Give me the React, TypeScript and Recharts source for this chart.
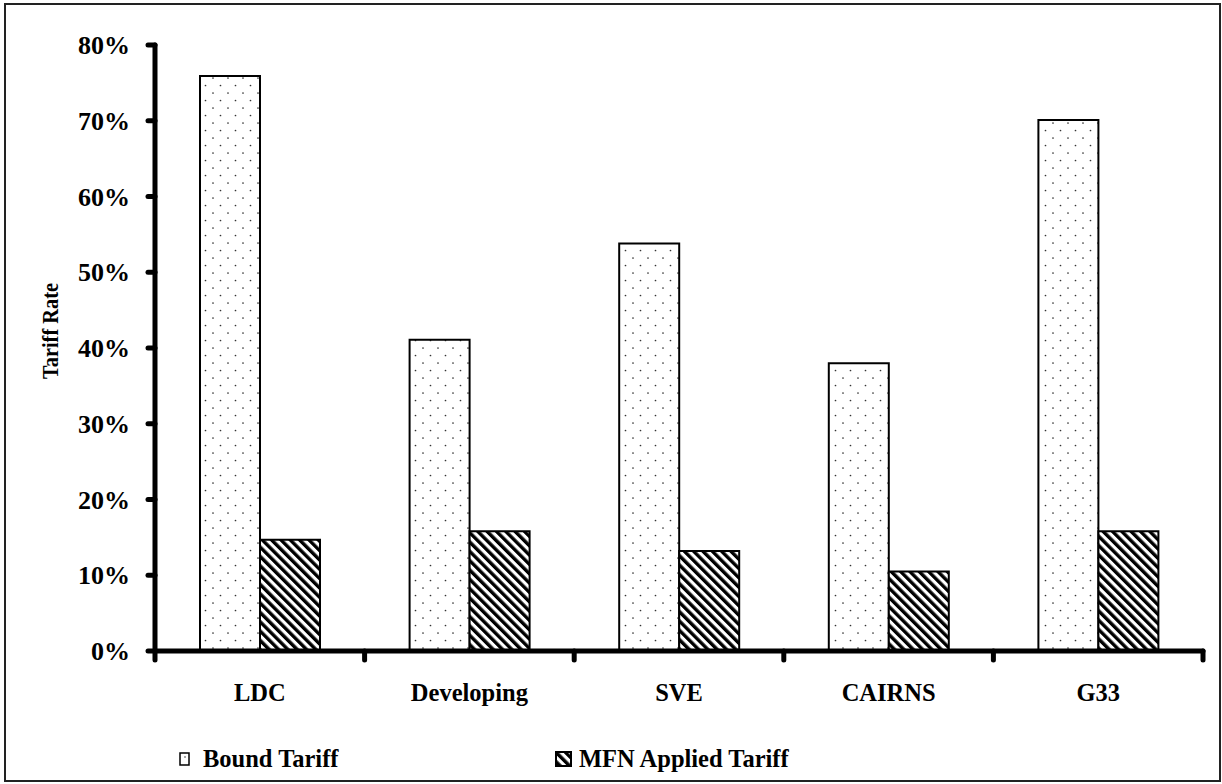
import React from 'react';
import { BarChart, Bar, XAxis, YAxis, Legend, Label } from 'recharts';

const categories = ['LDC', 'Developing', 'SVE', 'CAIRNS', 'G33'];
const boundTariff = [0.759, 0.411, 0.538, 0.38, 0.701];
const mfnApplied = [0.147, 0.158, 0.132, 0.105, 0.158];
const seriesNames = ['Bound Tariff', 'MFN Applied Tariff'];
const yTicks = [0, 0.1, 0.2, 0.3, 0.4, 0.5, 0.6, 0.7, 0.8];

const data = categories.map((c, i) => ({ name: c, bound: boundTariff[i], mfn: mfnApplied[i] }));

const W = 1222;
const H = 784;
const MARGIN = { top: 45, right: 19, bottom: 0, left: 0 };
const Y_W = 155;
const X_H = 133;
const PLOT_W = W - MARGIN.left - MARGIN.right - Y_W;
const BAND = PLOT_W / categories.length;
const FONT = '"Liberation Serif", "Times New Roman", serif';

const XTick = (props: any) => {
  const { x, y, payload, index } = props;
  const isLast = index === categories.length - 1;
  return (
    <g>
      <line x1={x - BAND / 2} y1={y} x2={x - BAND / 2} y2={y + 9} stroke="#000" strokeWidth={5} strokeLinecap="round" />
      {isLast && (
        <line x1={x + BAND / 2} y1={y} x2={x + BAND / 2} y2={y + 9} stroke="#000" strokeWidth={5} strokeLinecap="round" />
      )}
      <text x={x} y={y + 50} textAnchor="middle" fontFamily={FONT} fontWeight="bold" fontSize={24.5} fill="#000">
        {payload.value}
      </text>
    </g>
  );
};

const legendX = [180, 556];

const LegendContent = (props: any) => {
  const { payload } = props;
  return (
    <svg width={W} height={40} style={{ display: 'block' }}>
      {(payload || []).map((p: any, i: number) => {
        const x0 = legendX[i];
        const isBound = p.dataKey === 'bound';
        return (
          <g key={p.value}>
            {isBound ? (
              <g>
                <rect x={x0} y={13} width={9} height={12} fill="#fff" stroke="#000" strokeWidth={1.5} />
                <circle cx={x0 + 5} cy={17} r={0.8} fill="#333" />
              </g>
            ) : (
              <rect x={x0} y={12} width={15} height={14} fill="url(#stripePat)" stroke="#000" strokeWidth={2} />
            )}
            <text x={x0 + 23} y={27} fontFamily={FONT} fontWeight="bold" fontSize={24.5} fill="#000">
              {p.value}
            </text>
          </g>
        );
      })}
    </svg>
  );
};

export default function App() {
  return (
    <div style={{ position: 'absolute', left: 0, top: 0, width: W, height: H, background: '#fff' }}>
      <div
        style={{
          position: 'absolute',
          left: 4,
          top: 3,
          width: 1217,
          height: 779,
          border: '2px solid #222',
          boxSizing: 'border-box',
        }}
      />
      <div style={{ position: 'absolute', left: 0, top: 0 }}>
        <BarChart width={W} height={H} data={data} margin={MARGIN} barGap={0} barSize={60}>
          <defs>
            <pattern id="dotPat" patternUnits="userSpaceOnUse" width={15} height={15}>
              <rect x={0} y={0} width={15} height={15} fill="#fff" />
              <circle cx={3} cy={3} r={0.85} fill="#333" />
              <circle cx={10.5} cy={10.5} r={0.85} fill="#333" />
            </pattern>
            <pattern id="stripePat" patternUnits="userSpaceOnUse" width={6.6} height={10} patternTransform="rotate(-45)">
              <rect x={0} y={0} width={6.6} height={10} fill="#fff" />
              <rect x={0} y={0} width={3.4} height={10} fill="#000" />
            </pattern>
          </defs>
          <XAxis
            dataKey="name"
            height={X_H}
            axisLine={{ stroke: '#000', strokeWidth: 5, strokeLinecap: 'round' }}
            tickLine={false}
            tickSize={0}
            tickMargin={0}
            tick={<XTick />}
            interval={0}
          />
          <YAxis
            width={Y_W}
            domain={[0, 0.8]}
            ticks={yTicks}
            interval={0}
            tickFormatter={(v: number) => `${Math.round(v * 100)}%`}
            axisLine={{ stroke: '#000', strokeWidth: 5, strokeLinecap: 'round' }}
            tickLine={{ stroke: '#000', strokeWidth: 5, strokeLinecap: 'round' }}
            tickSize={7}
            tickMargin={18}
            tick={{ fill: '#000', fontFamily: FONT, fontWeight: 'bold', fontSize: 26 }}
          >
            <Label
              content={() => (
                <text
                  x={50}
                  y={331}
                  transform="rotate(-90 50 331)"
                  textAnchor="middle"
                  dominantBaseline="central"
                  fontFamily={FONT}
                  fontWeight="bold"
                  fontSize={22.5}
                  textLength={96}
                  lengthAdjust="spacingAndGlyphs"
                  fill="#000"
                >
                  Tariff Rate
                </text>
              )}
            />
          </YAxis>
          <Legend
            layout="horizontal"
            verticalAlign="middle"
            align="center"
            wrapperStyle={{ position: 'absolute', left: 0, top: 740, width: W, height: 40 }}
            content={<LegendContent />}
          />
          <Bar dataKey="bound" name={seriesNames[0]} fill="url(#dotPat)" stroke="#000" strokeWidth={2} isAnimationActive={false} />
          <Bar dataKey="mfn" name={seriesNames[1]} fill="url(#stripePat)" stroke="#000" strokeWidth={2} isAnimationActive={false} />
        </BarChart>
      </div>
    </div>
  );
}
